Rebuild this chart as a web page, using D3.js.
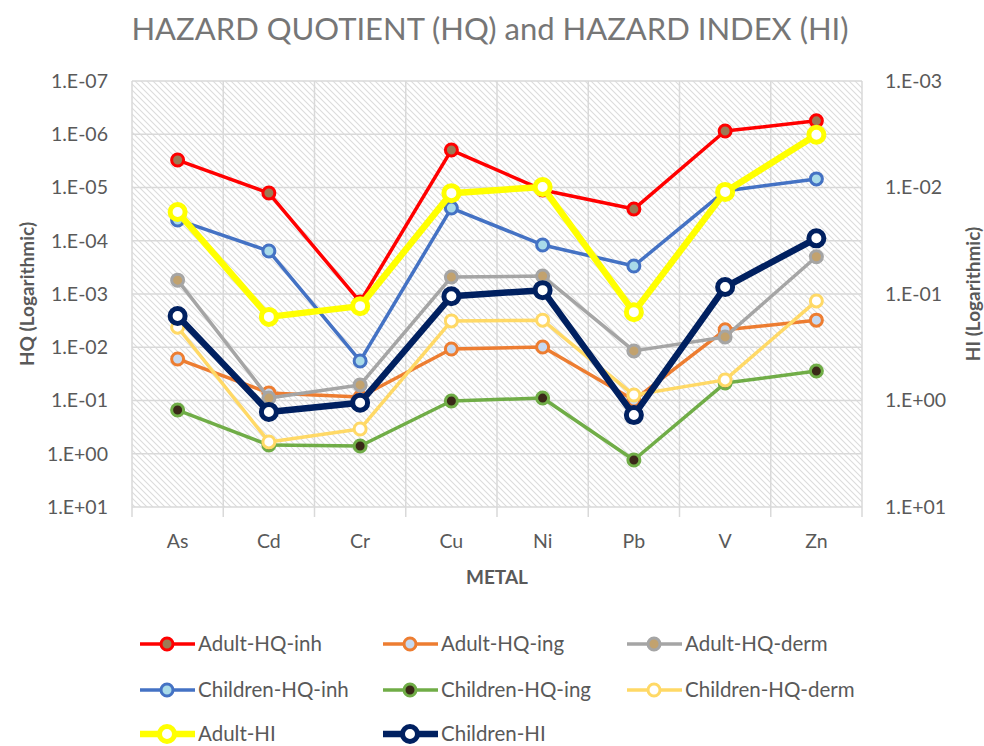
<!DOCTYPE html>
<html>
<head>
<meta charset="utf-8">
<script src="https://cdn.jsdelivr.net/npm/d3@7"></script>
<style>
  body { margin: 0; background: #fff; }
  svg { display: block; font-family: Lato, "Open Sans", sans-serif; }
  .tick-label { fill: #595959; font-size: 19.5px; }
  .axis-title { fill: #595959; font-size: 19px; font-weight: bold; }
  .legend-text { fill: #595959; font-size: 20.5px; }
</style>
</head>
<body>
<div id="chart"></div>
<script>
// categories
const metals = ["As", "Cd", "Cr", "Cu", "Ni", "Pb", "V", "Zn"];

// HQ series (left axis)
const adultHQinh = [3.05e-6, 1.27e-5, 1.41e-3, 1.98e-6, 1.11e-5, 2.54e-5, 8.7e-7, 5.6e-7];
const adultHQing = [1.66e-2, 7.2e-2, 8.6e-2, 1.08e-2, 9.9e-3, 9.8e-2, 4.7e-3, 3.1e-3];
const adultHQderm = [5.5e-4, 9.0e-2, 5.1e-2, 4.8e-4, 4.6e-4, 1.17e-2, 6.4e-3, 2.0e-4];
const childHQinh = [4.07e-5, 1.56e-4, 1.81e-2, 2.43e-5, 1.2e-4, 2.98e-4, 1.16e-5, 6.9e-6];
const childHQing = [0.151, 0.686, 0.714, 0.102, 0.090, 1.31, 0.047, 0.028];
const childHQderm = [4.2e-3, 0.60, 0.343, 3.2e-3, 3.1e-3, 7.9e-2, 4.1e-2, 1.35e-3];

// HI series (right axis)
const adultHI = [0.017, 0.164, 0.130, 0.0113, 0.0099, 0.148, 0.011, 0.0032];
const childHI = [0.161, 1.28, 1.05, 0.105, 0.092, 1.37, 0.086, 0.030];

// tick values
const hqTicks = [1e-7, 1e-6, 1e-5, 1e-4, 1e-3, 1e-2, 1e-1, 1e0, 1e1];
const hiTicks = [1e-3, 1e-2, 1e-1, 1e0, 1e1];

const series = [
  {name: "Adult-HQ-inh", values: adultHQinh, axis: "hq", color: "#ff0000", fill: "#9c7a55", w: 3.5, r: 6},
  {name: "Adult-HQ-ing", values: adultHQing, axis: "hq", color: "#ed7d31", fill: "#c6d9f1", w: 3.5, r: 6},
  {name: "Adult-HQ-derm", values: adultHQderm, axis: "hq", color: "#a5a5a5", fill: "#c2a26e", w: 3.5, r: 6},
  {name: "Children-HQ-inh", values: childHQinh, axis: "hq", color: "#4472c4", fill: "#a9dbe9", w: 3.5, r: 6},
  {name: "Children-HQ-ing", values: childHQing, axis: "hq", color: "#70ad47", fill: "#3a2818", w: 3.5, r: 6},
  {name: "Children-HQ-derm", values: childHQderm, axis: "hq", color: "#ffd966", fill: "#ffffff", w: 3.5, r: 6},
  {name: "Adult-HI", values: adultHI, axis: "hi", color: "#ffff00", fill: "#ffffff", w: 6.5, r: 7.5},
  {name: "Children-HI", values: childHI, axis: "hi", color: "#002060", fill: "#ffffff", w: 6.5, r: 7.5}
];

const W = 984, H = 746;
const plot = {left: 132, right: 862, top: 81, bottom: 507};

function fmtExp(v) {
  let e = Math.round(Math.log10(v));
  let s = e < 0 ? "-" : "+";
  return "1.E" + s + String(Math.abs(e)).padStart(2, "0");
}

let svg = d3.select("#chart").append("svg")
    .attr("width", W)
    .attr("height", H);

// hatched plot background
let defs = svg.append("defs");
defs.append("pattern")
    .attr("id", "hatch")
    .attr("patternUnits", "userSpaceOnUse")
    .attr("width", 6)
    .attr("height", 6)
  .append("path")
    .attr("d", "M0,0 L6,6 M-3,3 L3,9 M3,-3 L9,3")
    .attr("stroke", "#dcdcdc")
    .attr("stroke-width", 1.1);

svg.append("rect")
    .attr("x", plot.left)
    .attr("y", plot.top)
    .attr("width", plot.right - plot.left)
    .attr("height", plot.bottom - plot.top)
    .attr("fill", "url(#hatch)");

// scales (log, reversed so small values at top)
let x = d3.scaleBand().domain(metals).range([plot.left, plot.right]).padding(0);
let cx = d => x(d) + x.bandwidth() / 2;
let yHQ = d3.scaleLog().domain([1e-7, 1e1]).range([plot.top, plot.bottom]);
let yHI = d3.scaleLog().domain([1e-3, 1e1]).range([plot.top, plot.bottom]);

// grid
svg.append("g")
    .attr("class", "y-grid")
  .selectAll("line")
  .data(hqTicks)
  .enter().append("line")
    .attr("x1", plot.left)
    .attr("x2", plot.right)
    .attr("y1", d => yHQ(d))
    .attr("y2", d => yHQ(d))
    .attr("stroke", "#d9d9d9")
    .attr("stroke-width", 1.5);

let xEdges = metals.map(d => x(d)).concat([plot.right]);
svg.append("g")
    .attr("class", "x-grid")
  .selectAll("line")
  .data(xEdges)
  .enter().append("line")
    .attr("x1", d => d)
    .attr("x2", d => d)
    .attr("y1", plot.top)
    .attr("y2", plot.bottom + 10)
    .attr("stroke", "#d9d9d9")
    .attr("stroke-width", 1.5);

// Y axis labels
svg.append("g")
  .selectAll("text")
  .data(hqTicks)
  .enter().append("text")
    .attr("class", "tick-label")
    .attr("x", 108)
    .attr("y", d => yHQ(d))
    .attr("dy", "0.35em")
    .attr("text-anchor", "end")
    .text(fmtExp);

svg.append("g")
  .selectAll("text")
  .data(hiTicks)
  .enter().append("text")
    .attr("class", "tick-label")
    .attr("x", 885)
    .attr("y", d => yHI(d))
    .attr("dy", "0.35em")
    .text(fmtExp);

// X axis labels
svg.append("g")
  .selectAll("text")
  .data(metals)
  .enter().append("text")
    .attr("class", "tick-label")
    .attr("x", d => cx(d))
    .attr("y", 541)
    .attr("dy", "0.35em")
    .attr("text-anchor", "middle")
    .text(d => d);

// axis titles
svg.append("text")
    .attr("class", "axis-title")
    .attr("transform", "translate(27," + (plot.top + plot.bottom) / 2 + ") rotate(-90)")
    .attr("dy", "0.35em")
    .attr("text-anchor", "middle")
    .text("HQ (Logarithmic)");

svg.append("text")
    .attr("class", "axis-title")
    .attr("transform", "translate(973," + (plot.top + plot.bottom) / 2 + ") rotate(-90)")
    .attr("dy", "0.35em")
    .attr("text-anchor", "middle")
    .text("HI (Logarithmic)");

svg.append("text")
    .attr("class", "axis-title")
    .attr("x", 497)
    .attr("y", 577)
    .attr("dy", "0.35em")
    .attr("text-anchor", "middle")
    .text("METAL");

// title
svg.append("text")
    .attr("x", 490)
    .attr("y", 29)
    .attr("dy", "0.35em")
    .attr("text-anchor", "middle")
    .attr("fill", "#767676")
    .style("font-size", "31px")
    .text("HAZARD QUOTIENT (HQ) and HAZARD INDEX (HI)");

// series lines and markers
series.forEach(s => {
  let y = s.axis === "hi" ? yHI : yHQ;
  let line = d3.line()
      .x((d, i) => cx(metals[i]))
      .y(d => y(d));
  let g = svg.append("g").attr("class", "series");
  g.append("path")
      .datum(s.values)
      .attr("d", line)
      .attr("fill", "none")
      .attr("stroke", s.color)
      .attr("stroke-width", s.w)
      .attr("stroke-linejoin", "round");
  g.selectAll("circle")
      .data(s.values)
      .enter().append("circle")
      .attr("cx", (d, i) => cx(metals[i]))
      .attr("cy", d => y(d))
      .attr("r", s.r)
      .attr("fill", s.fill)
      .attr("stroke", s.color)
      .attr("stroke-width", s.axis === "hi" ? 5 : 3);
});

// legend
let legendCols = [140, 383, 627];
let legendRows = [644, 690, 734];
series.forEach((s, i) => {
  let lx = legendCols[i % 3];
  let ly = legendRows[Math.floor(i / 3)];
  let g = svg.append("g").attr("class", "legend-item");
  g.append("line")
      .attr("x1", lx)
      .attr("x2", lx + 55)
      .attr("y1", ly)
      .attr("y2", ly)
      .attr("stroke", s.color)
      .attr("stroke-width", s.w);
  g.append("circle")
      .attr("cx", lx + 27)
      .attr("cy", ly)
      .attr("r", s.r)
      .attr("fill", s.fill)
      .attr("stroke", s.color)
      .attr("stroke-width", s.axis === "hi" ? 5 : 3);
  g.append("text")
      .attr("class", "legend-text")
      .attr("x", lx + 58)
      .attr("y", ly)
      .attr("dy", "0.35em")
      .text(s.name);
});
</script>
</body>
</html>
